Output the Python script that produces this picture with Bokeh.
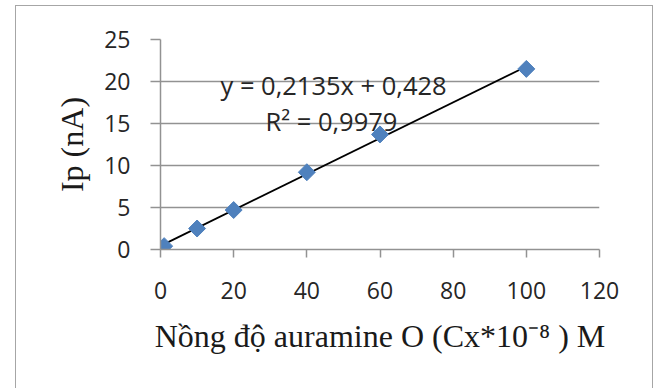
from bokeh.plotting import figure
from bokeh.models import Range1d, FixedTicker, Label, InlineStyleSheet
from bokeh.embed import file_html
from bokeh.resources import INLINE

# ---- data ----
conc = [1, 10, 20, 40, 60, 100]          # Cx * 1e-8 M
ip = [0.4, 2.5, 4.7, 9.2, 13.7, 21.5]     # nA
x_ticks = [0, 20, 40, 60, 80, 100, 120]
y_ticks = [0, 5, 10, 15, 20, 25]
slope = 0.2135
intercept = 0.428
eq_text = "y = 0,2135x + 0,428"
r2_text = "R\u00b2 = 0,9979"
x_label = "N\u1ed3ng \u0111\u1ed9 auramine O (Cx*10\u207b\u2078 ) M"
y_label = "Ip (nA)"

GRID = "#929292"
BLUE = "#4F81BD"
TXT = "#262626"

p = figure(width=655, height=388, output_backend="svg", toolbar_location=None,
           x_range=Range1d(0, 120), y_range=Range1d(0, 25),
           min_border_left=160, min_border_right=56,
           min_border_top=39, min_border_bottom=139)
p.outline_line_color = None
p.background_fill_color = "white"
p.border_fill_color = "white"

# outer chart-area border (drawn by CSS around the chart)
p.stylesheets = [InlineStyleSheet(css=(
    ":host::after { content: ''; position: absolute; left: 15px; top: 5px; "
    "width: 638px; height: 383px; box-sizing: border-box; "
    "border: 1.5px solid #a6a6a6; border-bottom: none; pointer-events: none; }"
))]

p.xgrid.visible = False
p.ygrid.grid_line_color = GRID
p.ygrid.grid_line_width = 1.5
p.ygrid.ticker = FixedTicker(ticks=y_ticks)

p.xaxis.ticker = FixedTicker(ticks=x_ticks)
p.yaxis.ticker = FixedTicker(ticks=y_ticks)
for ax in (p.xaxis[0], p.yaxis[0]):
    ax.axis_line_color = GRID
    ax.axis_line_width = 1.5
    ax.major_tick_line_color = GRID
    ax.major_tick_line_width = 1.5
    ax.major_tick_in = 0
    ax.minor_tick_line_color = None
    ax.major_label_text_font = "Open Sans"
    ax.major_label_text_font_size = "23px"
    ax.major_label_text_color = TXT
    ax.axis_label_text_font = "Liberation Serif"
    ax.axis_label_text_font_style = "normal"
    ax.axis_label_text_color = "#1a1a1a"

p.xaxis.major_tick_out = 8
p.yaxis.major_tick_out = 10
p.xaxis.major_label_standoff = 24
p.yaxis.major_label_standoff = 20
p.yaxis.axis_label = y_label
p.yaxis.axis_label_text_font_size = "32px"
p.yaxis.axis_label_standoff = 11
p.xaxis.axis_label = x_label
p.xaxis.axis_label_text_font_size = "32px"
p.xaxis.axis_label_standoff = 16

# trendline from the fitted equation
x0, x1 = min(conc), max(conc)
p.line([x0, x1], [slope * x0 + intercept, slope * x1 + intercept],
       line_color="black", line_width=1.8)

p.scatter(conc, ip, marker="square", size=12, angle=0.785398,
          fill_color=BLUE, line_color=BLUE)

p.add_layout(Label(x=16.4, y=19.64, text=eq_text, text_font="Open Sans",
                   text_font_size="25.5px", text_color=TXT,
                   text_baseline="alphabetic"))
p.add_layout(Label(x=28.7, y=15.24, text=r2_text, text_font="Open Sans",
                   text_font_size="25.5px", text_color=TXT,
                   text_baseline="alphabetic"))

open("out.html", "w").write(file_html(p, INLINE))
